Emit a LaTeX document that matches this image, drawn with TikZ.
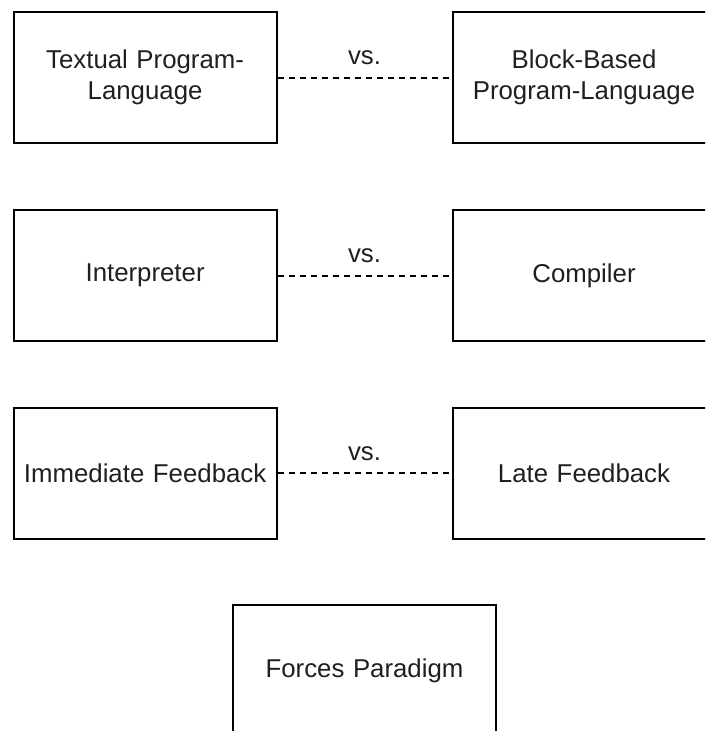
\documentclass[tikz,border=0pt]{standalone}
\usepackage{fontspec}
\setmainfont{Liberation Sans}
\begin{document}
\begin{tikzpicture}[x=1pt,y=-1pt,
  box/.style={draw=black, line width=2pt, rectangle, minimum width=263pt,
    minimum height=131.5pt, inner sep=0pt, align=center, text width=260pt,
    font=\fontsize{25.8pt}{31pt}\selectfont, text=black!88},
  link/.style={line width=2pt, dash pattern=on 6pt off 5pt},
  vslabel/.style={font=\fontsize{25.8pt}{31pt}\selectfont, text=black!88,
    inner sep=0pt, anchor=base, yshift=13pt}]
  \useasboundingbox (0,0) rectangle (705,731);
  \clip (0,0) rectangle (705,731);
  % first row: kind of language
  \node[box] (textual) at (145.1,77.7) {Textual Program-\\Language};
  \node[box] (block) at (584,77.7) {Block-Based\\Program-Language};
  % second row: execution model
  \node[box] (interp) at (145.1,275.6) {Interpreter};
  \node[box] (comp) at (584,275.6) {Compiler};
  % third row: timing of feedback
  \node[box] (immed) at (145.1,473.4) {Immediate Feedback};
  \node[box] (late) at (584,473.4) {Late Feedback};
  % bottom box
  \node[box] (forces) at (364.5,670.4) {Forces Paradigm};
  % dashed comparisons
  \draw[link] (textual.east) -- (block.west) node[midway, vslabel] {vs.};
  \draw[link] (interp.east) -- (comp.west) node[midway, vslabel] {vs.};
  \draw[link] (immed.east) -- (late.west) node[midway, vslabel] {vs.};
\end{tikzpicture}
\end{document}
